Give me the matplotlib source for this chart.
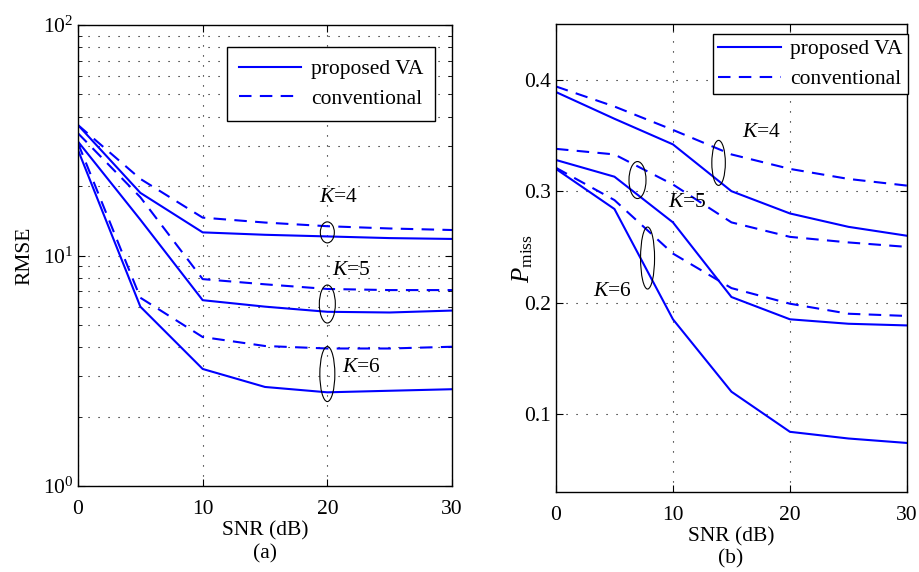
import numpy as np
import matplotlib
matplotlib.use('Agg')
import matplotlib.pyplot as plt
from matplotlib.patches import Ellipse
from matplotlib.transforms import ScaledTranslation

# SNR grid (dB)
snr = [0, 5, 10, 15, 20, 25, 30]

# (a) RMSE, log scale
rmse_va_k4 = [36.8, 18.7, 12.6, 12.3, 12.1, 11.9, 11.8]
rmse_conv_k4 = [36.8, 21.5, 14.6, 13.9, 13.4, 13.1, 12.9]
rmse_va_k5 = [31.2, 14.3, 6.4, 6.0, 5.7, 5.66, 5.77]
rmse_conv_k5 = [33.9, 17.9, 7.9, 7.5, 7.16, 7.08, 7.08]
rmse_va_k6 = [28.7, 6.0, 3.22, 2.69, 2.55, 2.59, 2.63]
rmse_conv_k6 = [30.7, 6.56, 4.43, 4.05, 3.95, 3.95, 4.02]

# (b) miss probability
pm_va_k4 = [0.389, 0.365, 0.342, 0.300, 0.280, 0.268, 0.260]
pm_conv_k4 = [0.394, 0.376, 0.355, 0.333, 0.320, 0.311, 0.305]
pm_va_k5 = [0.328, 0.313, 0.272, 0.205, 0.185, 0.181, 0.1795]
pm_conv_k5 = [0.338, 0.333, 0.306, 0.272, 0.259, 0.254, 0.250]
pm_va_k6 = [0.320, 0.284, 0.185, 0.120, 0.084, 0.078, 0.074]
pm_conv_k6 = [0.321, 0.292, 0.244, 0.213, 0.199, 0.190, 0.188]

legend_labels = ['proposed VA', 'conventional']

plt.rcParams['font.family'] = ['Liberation Serif', 'DejaVu Sans']
plt.rcParams['mathtext.fontset'] = 'custom'
plt.rcParams['mathtext.rm'] = 'Liberation Serif'
plt.rcParams['mathtext.it'] = 'Liberation Serif:italic'
plt.rcParams['font.size'] = 15.5

BLUE = '#0000ff'
DASH = (0, (6, 4))
GRID = dict(color='k', linestyle=(0, (1, 8)), linewidth=0.8)

fig = plt.figure(figsize=(9.2, 5.72), dpi=100)
ax1 = fig.add_axes([0.0848, 0.1503, 0.4065, 0.806])
ax2 = fig.add_axes([0.6043, 0.1399, 0.3815, 0.818])


def ring(ax, x, y, w, h):
    # ellipse sized in pixels, centred on a data point
    tr = fig.dpi_scale_trans + ScaledTranslation(x, y, ax.transData)
    ax.add_patch(Ellipse((0, 0), w / 100, h / 100, transform=tr, fill=False,
                         ec='k', lw=0.8, clip_on=False, zorder=5))


def style(ax):
    ax.tick_params(which='both', direction='in', top=True, right=True)
    ax.tick_params(which='major', length=5)
    ax.tick_params(which='minor', length=3)
    ax.tick_params(axis='x', pad=10)
    for s in ax.spines.values():
        s.set_linewidth(1.0)
    ax.set_xlim(0, 30)
    ax.set_xticks([0, 10, 20, 30])


def add_legend(ax, handles, anchor, bpad):
    leg = ax.legend(handles, legend_labels, loc='upper right', bbox_to_anchor=anchor,
                    fancybox=False, edgecolor='k', framealpha=1, handlelength=2.9,
                    handletextpad=0.45, labelspacing=0.45, borderpad=bpad,
                    borderaxespad=0)
    leg.get_frame().set_linewidth(1.0)


# ---- (a) ----
lines = []
for va, cv in [(rmse_va_k4, rmse_conv_k4), (rmse_va_k5, rmse_conv_k5), (rmse_va_k6, rmse_conv_k6)]:
    l1, = ax1.plot(snr, va, color=BLUE, lw=1.5)
    l2, = ax1.plot(snr, cv, color=BLUE, lw=1.5, linestyle=DASH)
    lines = [l1, l2]
ax1.set_yscale('log')
ax1.set_ylim(1, 100)
style(ax1)
ax1.grid(True, which='major', axis='both', **GRID)
ax1.grid(True, which='minor', axis='y', **GRID)
ax1.set_ylabel('RMSE', labelpad=6)
ax1.set_xlabel('SNR (dB)', labelpad=2)
add_legend(ax1, lines, (0.955, 0.952), 0.55)

ring(ax1, 20, 12.6, 14, 21)
ring(ax1, 20, 6.16, 16, 38)
ring(ax1, 20, 3.06, 15, 55)
ax1.text(20.9, 17.8, '$K$=4', ha='center', va='center')
ax1.text(21.9, 8.57, '$K$=5', ha='center', va='center')
ax1.text(22.7, 3.28, '$K$=6', ha='center', va='center')

# ---- (b) ----
for va, cv in [(pm_va_k4, pm_conv_k4), (pm_va_k5, pm_conv_k5), (pm_va_k6, pm_conv_k6)]:
    l1, = ax2.plot(snr, va, color=BLUE, lw=1.5)
    l2, = ax2.plot(snr, cv, color=BLUE, lw=1.5, linestyle=DASH)
    lines = [l1, l2]
ax2.set_ylim(0.03, 0.45)
ax2.set_yticks([0.1, 0.2, 0.3, 0.4])
style(ax2)
ax2.grid(True, which='major', **GRID)
ax2.set_ylabel(r'$P_{\mathrm{miss}}$', fontsize=18, labelpad=-8)
ax2.set_xlabel('SNR (dB)', labelpad=2)
add_legend(ax2, lines, (1.003, 0.979), 0.25)

ring(ax2, 13.9, 0.3254, 13.5, 45)
ring(ax2, 6.97, 0.310, 17, 37)
ring(ax2, 7.83, 0.240, 14, 62)
ax2.text(17.6, 0.353, '$K$=4', ha='center', va='center')
ax2.text(11.2, 0.290, '$K$=5', ha='center', va='center')
ax2.text(4.83, 0.210, '$K$=6', ha='center', va='center')

fig.text(265 / 920, 1 - 554 / 572, '(a)', ha='center', va='center')
fig.text(731 / 920, 1 - 559 / 572, '(b)', ha='center', va='center')

fig.savefig('out.png', dpi=100)
